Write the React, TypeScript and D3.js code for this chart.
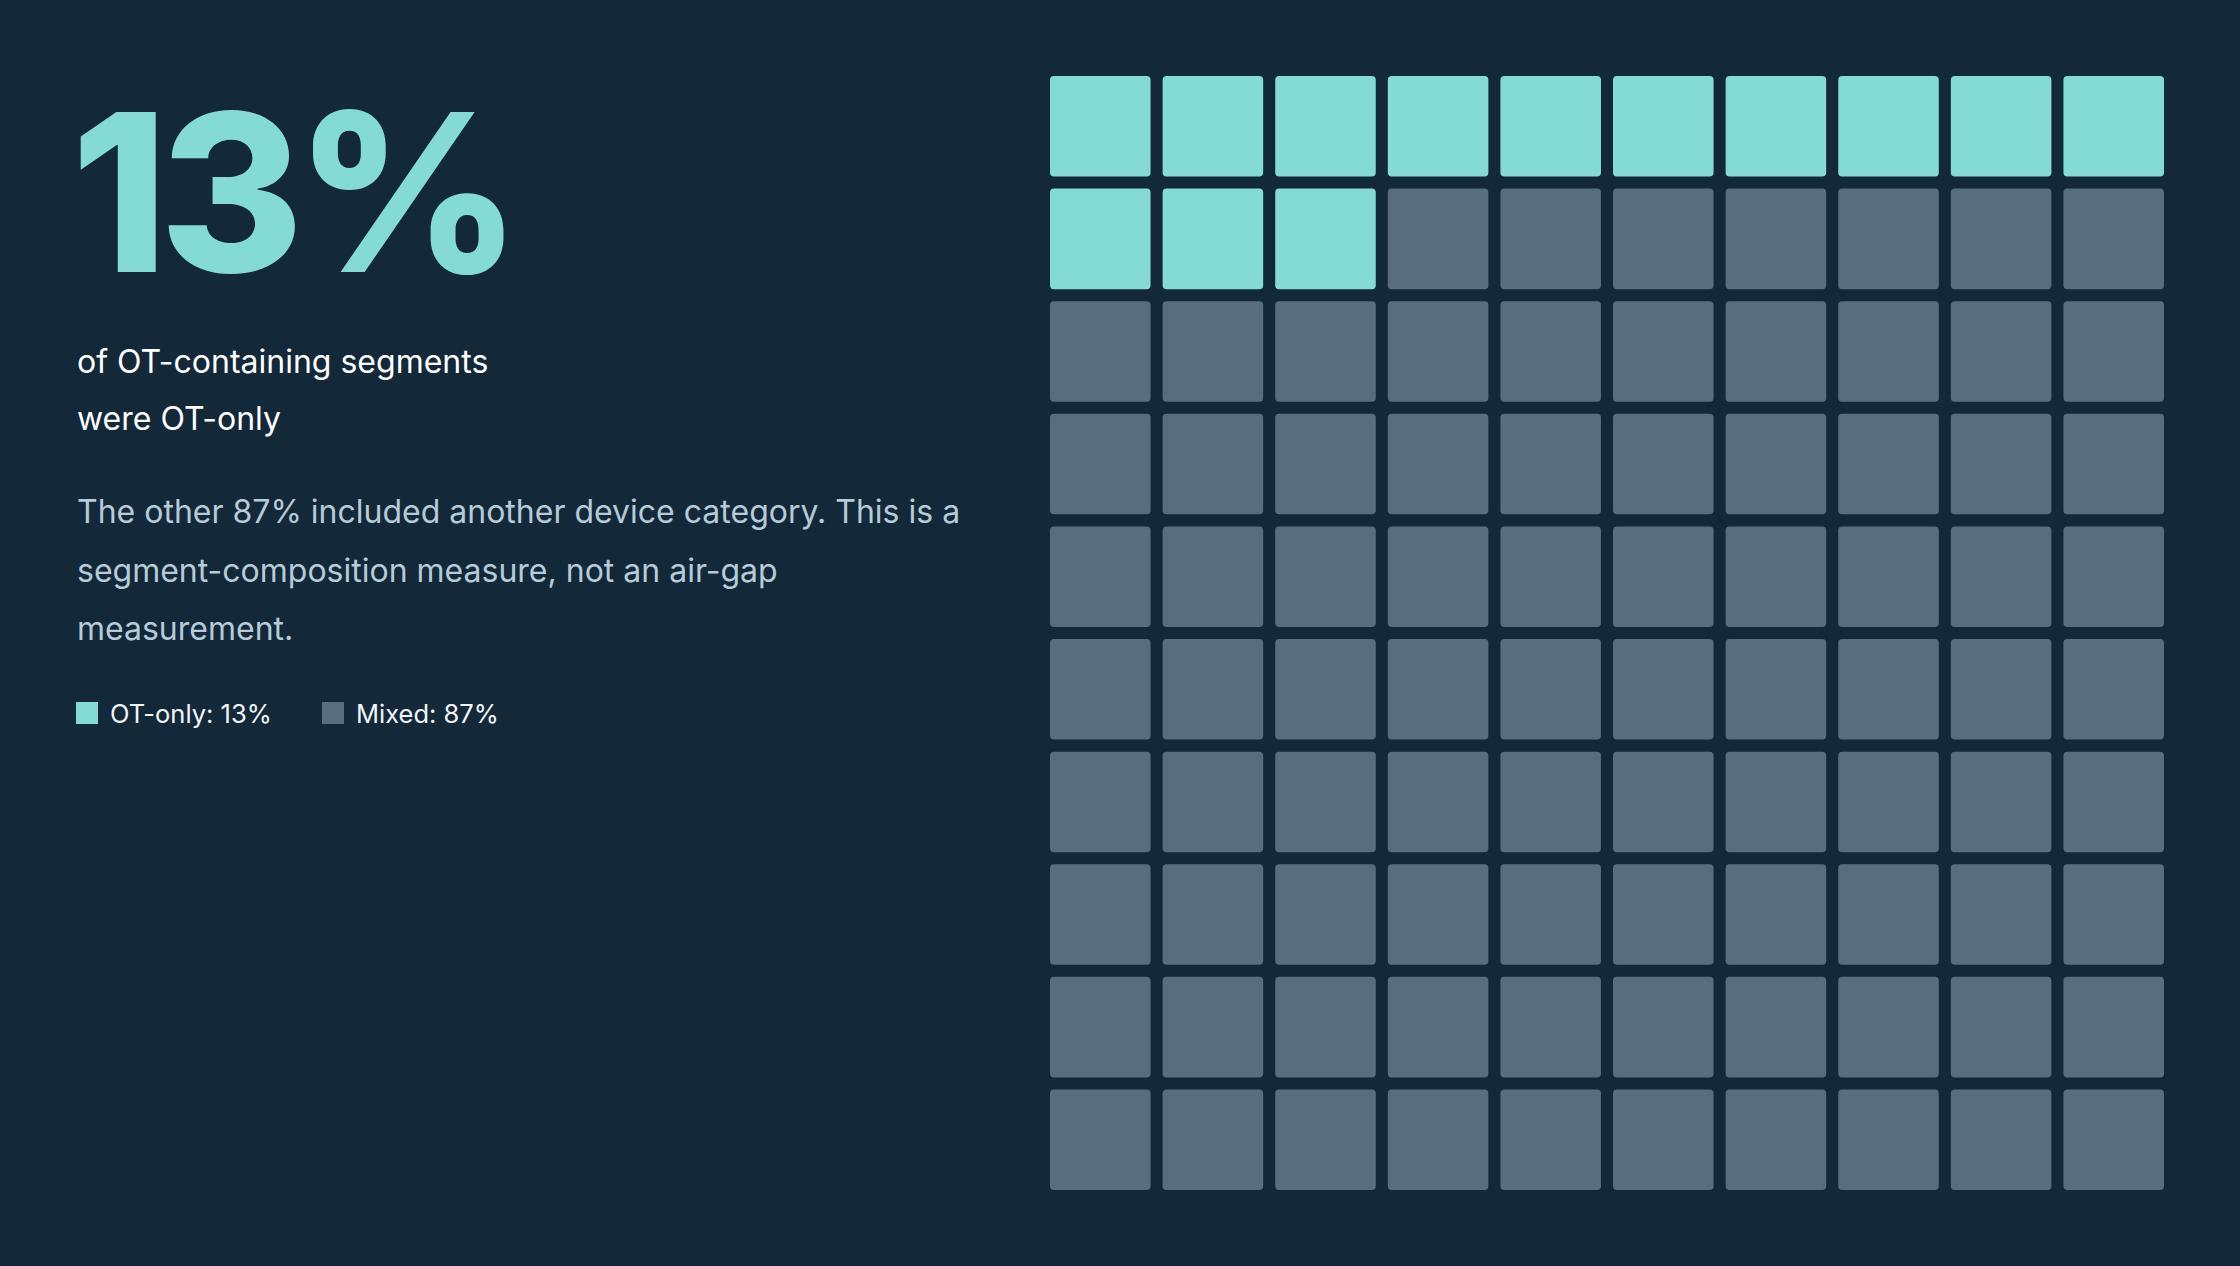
import React, {useEffect, useRef} from 'react';
import * as d3 from 'd3';

// Waffle data
const categories = ['OT-only', 'Mixed'];
const shares = [13, 87];
const headline = '13%';
const subtitleLines = ['of OT-containing segments', 'were OT-only'];
const noteLines = [
  'The other 87% included another device category. This is a',
  'segment-composition measure, not an air-gap',
  'measurement.',
];
const gridSize = 10;

const W = 2240;
const H = 1266;
const BG = '#13293a';
const colors = ['#84dbd5', '#586e7d'];
const FONT = 'Inter, "Noto Sans", sans-serif';

export default function App() {
  const svgRef = useRef<SVGSVGElement>(null);

  useEffect(() => {
    if (!svgRef.current) return;
    const svg = d3.select(svgRef.current);
    svg.selectAll('*').remove();

    svg.append('rect').attr('width', W).attr('height', H).attr('fill', BG);

    // cells: first shares[0] cells are OT-only
    const cells = d3.range(gridSize * gridSize).map((i) => ({
      row: Math.floor(i / gridSize),
      col: i % gridSize,
      cat: i < shares[0] ? 0 : 1,
    }));

    const x = d3
      .scaleBand<number>()
      .domain(d3.range(gridSize))
      .range([1050, 2164])
      .paddingInner(0.107);
    const y = d3
      .scaleBand<number>()
      .domain(d3.range(gridSize))
      .range([76, 1190])
      .paddingInner(0.107);

    svg
      .append('g')
      .selectAll('rect')
      .data(cells)
      .enter()
      .append('rect')
      .attr('x', (d) => x(d.col) || 0)
      .attr('y', (d) => y(d.row) || 0)
      .attr('width', x.bandwidth())
      .attr('height', y.bandwidth())
      .attr('rx', 4)
      .attr('fill', (d) => colors[d.cat]);

    // left text block
    const left = 77;
    svg
      .append('text')
      .attr('x', left - 6)
      .attr('y', 272)
      .attr('font-family', FONT)
      .attr('font-weight', 800)
      .attr('font-size', 220)
      .attr('letter-spacing', '-0.04em')
      .attr('fill', colors[0])
      .text(headline);

    svg
      .append('g')
      .selectAll('text')
      .data(subtitleLines)
      .enter()
      .append('text')
      .attr('x', left)
      .attr('y', (d, i) => 373 + i * 57)
      .attr('font-family', FONT)
      .attr('font-size', 32)
      .attr('fill', '#ffffff')
      .text((d) => d);

    svg
      .append('g')
      .selectAll('text')
      .data(noteLines)
      .enter()
      .append('text')
      .attr('x', left)
      .attr('y', (d, i) => 523 + i * 58.5)
      .attr('font-family', FONT)
      .attr('font-size', 32)
      .attr('fill', '#b6cbd7')
      .text((d) => d);

    // legend
    const legendX = [76, 322];
    const legend = svg
      .append('g')
      .selectAll('g')
      .data(categories)
      .enter()
      .append('g')
      .attr('transform', (d, i) => `translate(${legendX[i]},702)`);
    legend
      .append('rect')
      .attr('width', 22)
      .attr('height', 22)
      .attr('fill', (d, i) => colors[i]);
    legend
      .append('text')
      .attr('x', 34)
      .attr('y', 21)
      .attr('font-family', FONT)
      .attr('font-size', 25.5)
      .attr('fill', '#f1f5f8')
      .text((d, i) => `${d}: ${shares[i]}%`);
  }, []);

  return (
    <div style={{position: 'fixed', left: 0, top: 0, width: W, height: H}}>
      <svg ref={svgRef} width={W} height={H} />
    </div>
  );
}
